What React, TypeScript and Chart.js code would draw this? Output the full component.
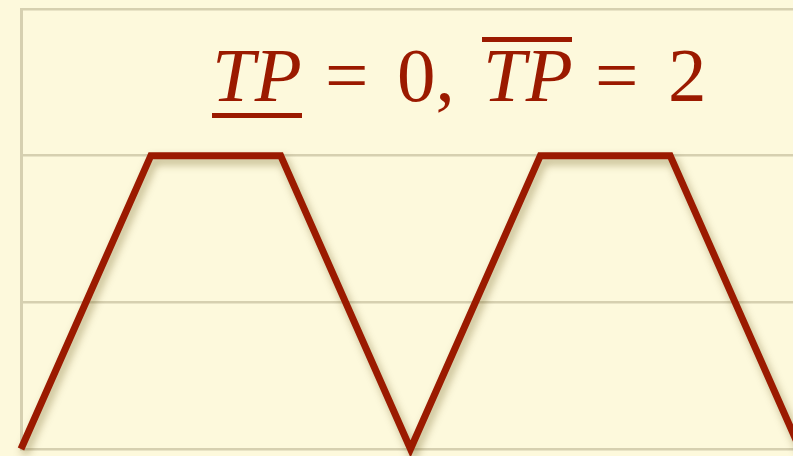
import React, { useEffect, useRef } from "react";
import { Chart, registerables } from "chart.js";

Chart.register(...registerables);

const xValues = [0, 1, 2, 3, 4, 5, 6];
const yValues = [0, 2, 2, 0, 2, 2, 0];
const titleTokens = [
  { text: "TP", italic: true },
  { text: "=", italic: false },
  { text: "0,", italic: false },
  { text: "TP", italic: true },
  { text: "=", italic: false },
  { text: "2", italic: false },
];

const BG = "#fdf9dc";
const GRID = "#d6d0b0";
const RED = "#9b1a00";

const bgPlugin = {
  id: "bg",
  beforeDraw(chart: any) {
    const { ctx, width, height } = chart;
    ctx.save();
    ctx.fillStyle = BG;
    ctx.fillRect(0, 0, width, height);
    ctx.restore();
  },
};

const shadowPlugin = {
  id: "shadow",
  beforeDatasetsDraw(chart: any) {
    const ctx = chart.ctx;
    ctx.save();
    ctx.shadowColor = "rgba(90,70,0,0.4)";
    ctx.shadowBlur = 8;
    ctx.shadowOffsetX = 3;
    ctx.shadowOffsetY = 5;
  },
  afterDatasetsDraw(chart: any) {
    chart.ctx.restore();
  },
};

const tokenX = [212, 325, 397, 483, 595, 668];

const titlePlugin = {
  id: "mathTitle",
  afterDraw(chart: any) {
    const ctx = chart.ctx;
    const size = 77;
    const base = 101;
    ctx.save();
    ctx.fillStyle = RED;
    ctx.textBaseline = "alphabetic";
    titleTokens.forEach((p, i) => {
      ctx.font = `${p.italic ? "italic " : ""}${size}px "Liberation Serif", "Times New Roman", serif`;
      ctx.fillText(p.text, tokenX[i], base);
    });
    ctx.fillRect(212, base + 12, 90, 5);
    ctx.fillRect(482, base - 64, 90, 5);
    ctx.restore();
  },
};

export default function App() {
  const ref = useRef<HTMLCanvasElement>(null);
  useEffect(() => {
    document.body.style.margin = "0";
    document.body.style.background = BG;
    const chart = new Chart(ref.current!, {
      type: "line",
      data: {
        datasets: [
          {
            data: xValues.map((x, i) => ({ x, y: yValues[i] })),
            borderColor: RED,
            borderWidth: 7,
            borderJoinStyle: "miter",
            pointRadius: 0,
            tension: 0,
            fill: false,
            clip: false as any,
          },
        ],
      },
      options: {
        animation: false,
        responsive: false,
        maintainAspectRatio: false,
        layout: { padding: { left: 21, top: 9, bottom: 7, right: 0 } },
        plugins: { legend: { display: false }, tooltip: { enabled: false }, title: { display: false } },
        scales: {
          x: { type: "linear", min: 0, max: 5.946, display: false },
          y: {
            min: 0,
            max: 3,
            ticks: { display: false, stepSize: 1 },
            grid: { color: GRID, lineWidth: 2.5, drawTicks: false },
            border: { display: true, color: GRID, width: 3 },
          },
        },
      },
      plugins: [bgPlugin, shadowPlugin, titlePlugin],
    });
    return () => chart.destroy();
  }, []);
  return <canvas ref={ref} width={793} height={456} style={{ display: "block" }} />;
}
